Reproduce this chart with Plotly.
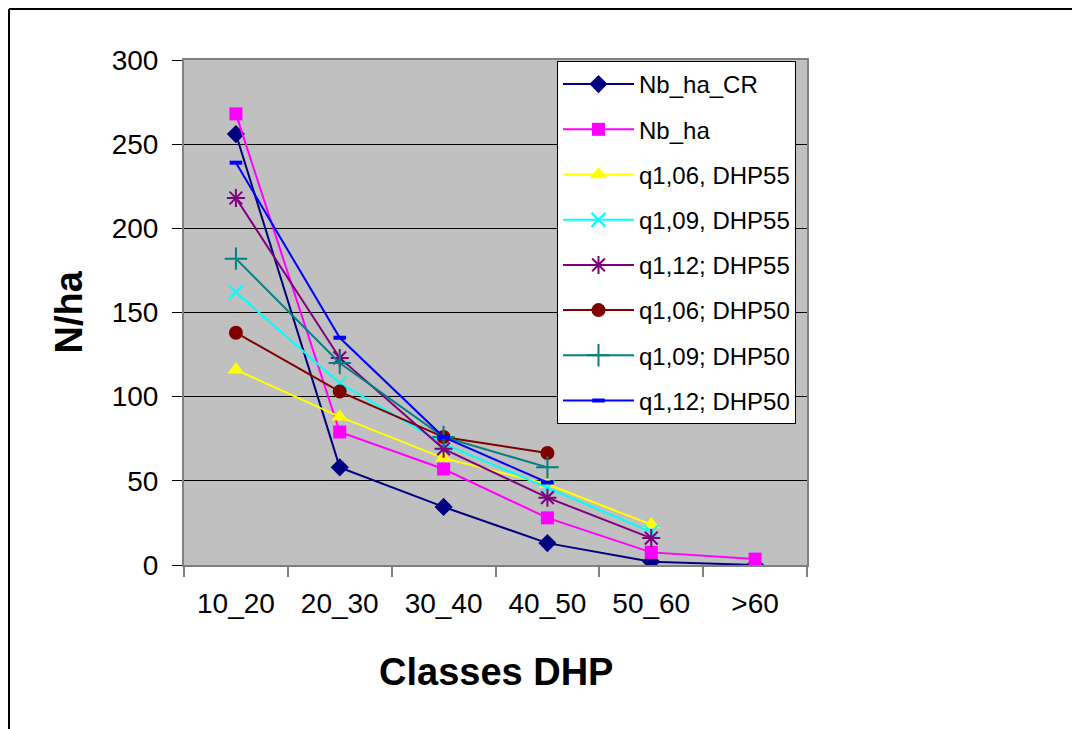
import plotly.graph_objects as go

categories = ["10_20", "20_30", "30_40", "40_50", "50_60", ">60"]

nb_ha_cr = [256, 58, 34.5, 13, 2, 0]
nb_ha = [268, 79, 57, 28, 7.5, 3.5]
q106_dhp55 = [116, 88, 63.5, 48, 24, None]
q109_dhp55 = [162, 108, 72, 46, 19.5, None]
q112_dhp55 = [218, 123, 69, 40, 16, None]
q106_dhp50 = [138, 103, 76, 66.5, None, None]
q109_dhp50 = [182, 120, 76, 58, None, None]
q112_dhp50 = [239, 135, 76, 49, None, None]

series_names = ["Nb_ha_CR", "Nb_ha", "q1,06, DHP55", "q1,09, DHP55",
                "q1,12; DHP55", "q1,06; DHP50", "q1,09; DHP50", "q1,12; DHP50"]
series_values = [nb_ha_cr, nb_ha, q106_dhp55, q109_dhp55,
                 q112_dhp55, q106_dhp50, q109_dhp50, q112_dhp50]

styles = [
    dict(color="#000080", symbol="diamond", size=14, lw=0),
    dict(color="#FF00FF", symbol="square", size=13, lw=0),
    dict(color="#FFFF00", symbol="triangle-up", size=15, lw=0),
    dict(color="#00FFFF", symbol="x-thin-open", size=14, lw=2),
    dict(color="#800080", symbol="asterisk-open", size=15, lw=2),
    dict(color="#800000", symbol="circle", size=14, lw=0),
    dict(color="#008080", symbol="cross-thin-open", size=16, lw=2),
    dict(color="#0000FF", symbol="line-ew-open", size=9, lw=4),
]

fig = go.Figure()
for i, (name, vals, st) in enumerate(zip(series_names, series_values, styles)):
    fig.add_trace(go.Scatter(
        x=categories, y=vals, name=name, mode="lines+markers",
        legendgroup=f"g{i}",
        line=dict(color=st["color"], width=2),
        marker=dict(symbol=st["symbol"], size=st["size"], color=st["color"],
                    line=dict(color=st["color"], width=st["lw"])),
        connectgaps=False,
    ))

L, R, T, B = 184, 1072 - 807, 60, 729 - 565
W, H = 1072, 729
pw, ph = W - L - R, H - T - B

fig.update_layout(
    width=W, height=H,
    margin=dict(l=L, r=R, t=T, b=B, pad=0),
    paper_bgcolor="white",
    plot_bgcolor="#C0C0C0",
    font=dict(family="Liberation Sans, Arial, sans-serif", color="black"),
    showlegend=True,
    legend=dict(
        x=(557 - L) / pw, y=1 - (61 - T) / ph, xanchor="left", yanchor="top",
        bgcolor="white", bordercolor="black", borderwidth=1,
        font=dict(size=24, color="black"),
        tracegroupgap=11, itemwidth=71,
    ),
    xaxis=dict(
        type="category", categoryorder="array", categoryarray=categories,
        tickson="boundaries", ticks="outside", ticklen=10, tickcolor="#808080",
        tickwidth=2,
        showline=True, linecolor="#808080", linewidth=2, mirror=True,
        showgrid=False, zeroline=False,
        tickfont=dict(size=28, color="black"),
        ticklabelstandoff=12,
        range=[-0.5, 5.5],
    ),
    yaxis=dict(
        range=[0, 300], dtick=50, tick0=0,
        ticks="outside", ticklen=10, tickcolor="black", tickwidth=1,
        showline=True, linecolor="#808080", linewidth=2, mirror=True,
        showgrid=True, gridcolor="black", gridwidth=1, zeroline=False,
        tickfont=dict(size=28, color="black"),
        ticklabelstandoff=8,
    ),
    annotations=[
        dict(text="<b>N/ha</b>", xref="paper", yref="paper",
             x=(68 - L) / pw, y=0.5, xanchor="center", yanchor="middle",
             textangle=-90, showarrow=False, font=dict(size=38, color="black")),
        dict(text="<b>Classes DHP</b>", xref="paper", yref="paper",
             x=0.5, y=-(672 - 565) / ph,
             xanchor="center", yanchor="middle",
             showarrow=False, font=dict(size=38, color="black")),
    ],
    shapes=[
        dict(type="line", xref="paper", yref="paper",
             x0=(9 - L) / pw, x1=(W - L + 5) / pw,
             y0=1 + (T - 9) / ph, y1=1 + (T - 9) / ph,
             line=dict(color="black", width=2)),
        dict(type="line", xref="paper", yref="paper",
             x0=(9 - L) / pw, x1=(9 - L) / pw,
             y0=1 + (T - 9) / ph, y1=-(B + 5) / ph,
             line=dict(color="black", width=2)),
    ],
)

fig.write_html("out.html")
